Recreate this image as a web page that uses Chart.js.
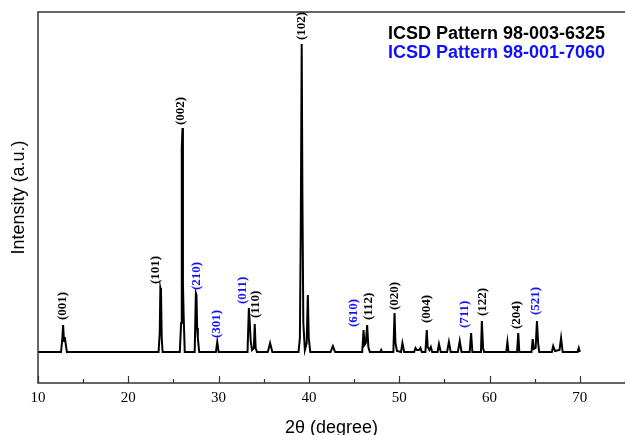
<!DOCTYPE html>
<html>
<head>
<meta charset="utf-8">
<script src="https://cdn.jsdelivr.net/npm/chart.js@4.4.1/dist/chart.umd.min.js"></script>
<style>
  html, body { margin: 0; padding: 0; background: #fff; }
  #wrap { width: 625px; height: 435px; }
</style>
</head>
<body>
<div id="wrap"><canvas id="xrdChart" width="625" height="435"></canvas></div>
<script>
// XRD pattern, 2θ in degrees, intensity in arbitrary units
const twoTheta = [
    10.0, 12.55, 12.7, 12.78, 12.88, 12.98, 13.05, 13.2,
    23.35, 23.48, 23.55, 23.62, 23.7, 23.8,
    25.7, 25.85, 25.92, 26.0, 26.05, 26.12, 26.25,
    27.35, 27.48, 27.55, 27.62, 27.7, 27.85,
    29.7, 29.85, 30.0,
    33.2, 33.35, 33.45, 33.55, 33.7, 33.9, 34.0, 34.1, 34.25,
    35.45, 35.7, 35.95,
    38.85, 39.0, 39.1, 39.2, 39.28, 39.38, 39.55, 39.75, 39.88, 39.98, 40.15,
    42.4, 42.65, 42.9,
    45.9, 46.05, 46.15, 46.3, 46.45, 46.58, 46.75,
    47.9, 48.0, 48.1,
    49.35, 49.48, 49.58, 49.75, 50.2, 50.35, 50.55,
    51.65, 51.8, 51.95, 52.2, 52.35, 52.5,
    52.9, 53.05, 53.15, 53.35, 53.5, 53.65,
    54.25, 54.4, 54.6, 55.3, 55.5, 55.7, 56.5, 56.7, 56.9,
    57.8, 57.96, 58.1, 59.05, 59.15, 59.28, 59.4,
    61.85, 61.98, 62.1, 63.05, 63.18, 63.3,
    64.65, 64.78, 64.9, 65.1, 65.25, 65.38, 65.5,
    66.9, 67.05, 67.25, 67.75, 67.92, 68.1,
    69.75, 69.88, 70.0
];
const intensity = [
    31, 31, 45, 58, 42, 46, 40, 31,
    31, 50, 95, 92, 45, 31,
    31, 60, 235, 255, 100, 70, 31,
    31, 90, 88, 55, 45, 31,
    31, 41, 31,
    31, 75, 60, 42, 33, 35, 59, 35, 31,
    31, 40, 31,
    31, 45, 158, 339, 186, 60, 33, 40, 88, 45, 31,
    31, 37, 31,
    31, 53, 38, 40, 58, 36, 31,
    31, 33, 31,
    31, 70, 40, 32, 31, 40, 31,
    31, 35, 33, 33, 35, 31,
    31, 53, 36, 33, 36, 31,
    31, 39, 31, 31, 41, 31, 31, 42, 31,
    31, 50, 31, 31, 62, 35, 31,
    31, 41, 31, 31, 50, 31,
    31, 44, 34, 35, 62, 40, 31,
    31, 37, 32, 33, 45, 31,
    31, 35, 31
];

// Miller indices and where each one is written
const hkl      = ['(001)', '(101)', '(002)', '(210)', '(301)', '(011)', '(110)', '(102)',
                  '(610)', '(112)', '(020)', '(004)', '(711)', '(122)', '(204)', '(521)'];
const hklAt    = [12.77, 23.0, 25.78, 27.55, 29.76, 32.7, 34.1, 39.2,
                  44.98, 46.6, 49.5, 53.0, 57.2, 59.2, 62.95, 65.15];
const hklLevel = [63, 99, 258, 93, 45, 79, 65, 343,
                  56, 63, 73, 60, 55, 67, 54, 68];
const hklPattern = [0, 0, 0, 1, 1, 1, 0, 0, 1, 0, 0, 0, 1, 0, 0, 1];

const patterns = ['ICSD Pattern 98-003-6325', 'ICSD Pattern 98-001-7060'];
const patternColors = ['#000000', '#1010ff'];

const xTicks = [10, 20, 30, 40, 50, 60, 70];

const points = twoTheta.map((t, i) => ({ x: t, y: intensity[i] }));

const decorations = {
    id: 'decorations',
    afterDatasetsDraw(chart) {
        const { ctx, chartArea: area, scales: { x, y } } = chart;
        ctx.save();

        // frame
        ctx.strokeStyle = '#333';
        ctx.lineWidth = 1.5;
        ctx.beginPath();
        ctx.moveTo(area.right + 1, area.top);
        ctx.lineTo(area.left, area.top);
        ctx.lineTo(area.left, area.bottom);
        ctx.lineTo(area.right + 1, area.bottom);
        ctx.stroke();

        // inward ticks
        ctx.lineWidth = 1.2;
        for (let v = 10; v <= 75; v += 5) {
            const px = Math.round(x.getPixelForValue(v)) + 0.5;
            const len = v % 10 === 0 ? 7 : 4;
            ctx.beginPath();
            ctx.moveTo(px, area.bottom);
            ctx.lineTo(px, area.bottom - len);
            ctx.stroke();
        }

        // tick labels
        ctx.fillStyle = '#000';
        ctx.font = '15px "Liberation Serif", serif';
        ctx.textAlign = 'center';
        ctx.textBaseline = 'middle';
        xTicks.forEach(v => ctx.fillText(String(v), x.getPixelForValue(v), area.bottom + 15));

        // axis titles
        ctx.font = '18px "Liberation Sans", Arial, sans-serif';
        ctx.fillText('2θ (degree)', (area.left + area.right) / 2, area.bottom + 45);
        ctx.save();
        ctx.translate(19, (area.top + area.bottom) / 2);
        ctx.rotate(-Math.PI / 2);
        ctx.fillText('Intensity (a.u.)', 0, 0);
        ctx.restore();

        // peak labels
        ctx.font = 'bold 13px "Liberation Serif", serif';
        ctx.textAlign = 'left';
        hkl.forEach((label, i) => {
            ctx.save();
            ctx.translate(x.getPixelForValue(hklAt[i]), y.getPixelForValue(hklLevel[i]));
            ctx.rotate(-Math.PI / 2);
            ctx.fillStyle = patternColors[hklPattern[i]];
            ctx.fillText(label, 0, 0);
            ctx.restore();
        });

        // pattern key
        ctx.font = 'bold 18px "Liberation Sans", Arial, sans-serif';
        ctx.textAlign = 'left';
        patterns.forEach((p, i) => {
            ctx.fillStyle = patternColors[i];
            ctx.fillText(p, 388, 34 + i * 19);
        });

        ctx.restore();
    }
};

new Chart(document.getElementById('xrdChart'), {
    type: 'line',
    data: {
        datasets: [{
            label: 'XRD',
            data: points,
            borderColor: '#000',
            borderWidth: 2,
            pointRadius: 0,
            tension: 0,
            fill: false
        }]
    },
    options: {
        responsive: false,
        animation: false,
        devicePixelRatio: 1,
        layout: { padding: { left: 38, top: 12, right: 0, bottom: 52 } },
        scales: {
            x: { type: 'linear', min: 10, max: 75, display: false },
            y: { type: 'linear', min: 0, max: 371, display: false }
        },
        plugins: {
            legend: { display: false },
            tooltip: { enabled: false }
        }
    },
    plugins: [decorations]
});
</script>
</body>
</html>
